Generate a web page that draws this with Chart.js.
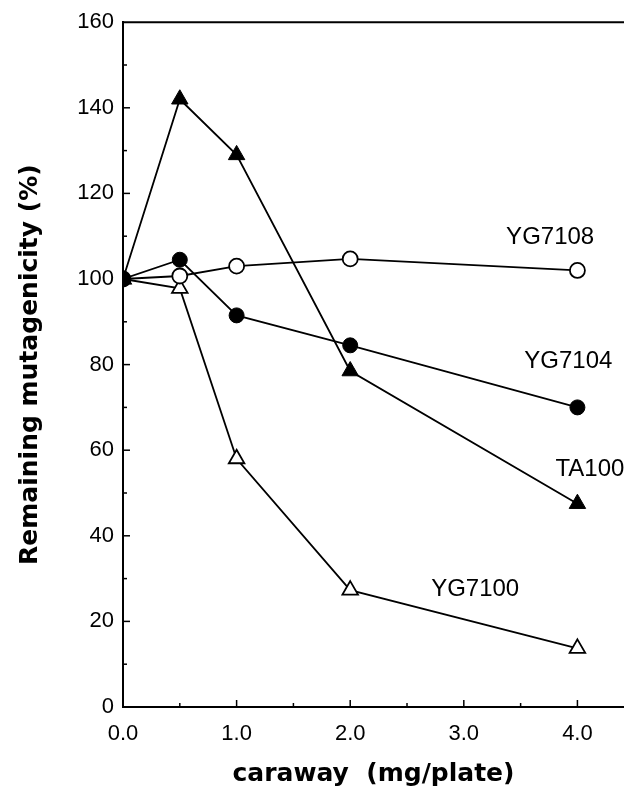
<!DOCTYPE html>
<html>
<head>
<meta charset="utf-8">
<script src="https://cdn.jsdelivr.net/npm/chart.js@4.4.1/dist/chart.umd.min.js"></script>
<style>
  html, body { margin: 0; padding: 0; background: #fff; }
  #contenedor { width: 624px; height: 787px; }
</style>
</head>
<body>
<div id="contenedor"><canvas id="grafico"></canvas></div>
<script>
// Dosis de alcaravea (mg/placa)
const dosis = [0, 0.5, 1, 2, 4];

// Mutagenicidad remanente (%) por cepa
const ta100 = [100, 142, 129, 78.5, 47.5];
const yg7104 = [100, 104.5, 91.5, 84.5, 70];
const yg7108 = [100, 100.7, 103, 104.7, 102];
const yg7100 = [100, 97.8, 58, 27.3, 13.7];

// Nombres de las cepas junto a las curvas
const nombres = ['TA100', 'YG7104', 'YG7108', 'YG7100'];

const fuente = "'Liberation Sans', Arial, sans-serif";
const fuenteTitulo = "'DejaVu Sans', sans-serif";

const puntos = serie => serie.map((v, i) => ({ x: dosis[i], y: v }));

// Posición de cada etiqueta (en unidades de los ejes)
const posEtiquetas = {
  TA100: [4.11, 55.5],
  YG7104: [3.92, 80.7],
  YG7108: [3.76, 109.8],
  YG7100: [3.10, 27.5]
};

// Marcas internas, borde superior y etiquetas de las series
const marcasPlugin = {
  id: 'marcas',
  afterDraw(chart) {
    const { ctx, chartArea: a, scales: { x, y } } = chart;
    ctx.save();
    ctx.strokeStyle = '#000';
    ctx.lineWidth = 2;
    ctx.beginPath();
    ctx.moveTo(a.left, a.top);
    ctx.lineTo(a.right, a.top);
    ctx.stroke();

    ctx.lineWidth = 1.5;
    x.ticks.forEach(t => {
      if (t.value <= 0 || t.value > 4) return;
      const px = x.getPixelForValue(t.value);
      const largo = Number.isInteger(t.value) ? 7 : 4;
      ctx.beginPath();
      ctx.moveTo(px, a.bottom);
      ctx.lineTo(px, a.bottom - largo);
      ctx.stroke();
    });
    y.ticks.forEach(t => {
      if (t.value <= 0 || t.value >= 160) return;
      const py = y.getPixelForValue(t.value);
      const largo = t.value % 20 === 0 ? 7 : 4;
      ctx.beginPath();
      ctx.moveTo(a.left, py);
      ctx.lineTo(a.left + largo, py);
      ctx.stroke();
    });

    ctx.fillStyle = '#000';
    ctx.font = '24px ' + fuente;
    ctx.textAlign = 'center';
    ctx.textBaseline = 'middle';
    nombres.forEach(n => {
      const [vx, vy] = posEtiquetas[n];
      ctx.fillText(n, x.getPixelForValue(vx), y.getPixelForValue(vy));
    });
    ctx.restore();
  }
};

const ctx = document.getElementById('grafico').getContext('2d');

const grafico = new Chart(ctx, {
  type: 'scatter',
  data: {
    datasets: [
      {
        label: 'TA100',
        data: puntos(ta100),
        showLine: true,
        borderColor: '#000',
        borderWidth: 1.8,
        pointStyle: 'triangle',
        pointRadius: 9.5,
        pointBackgroundColor: '#000',
        pointBorderColor: '#000',
        pointBorderWidth: 1
      },
      {
        label: 'YG7104',
        data: puntos(yg7104),
        showLine: true,
        borderColor: '#000',
        borderWidth: 1.8,
        pointStyle: 'circle',
        pointRadius: 7.5,
        pointBackgroundColor: '#000',
        pointBorderColor: '#000',
        pointBorderWidth: 1
      },
      {
        label: 'YG7108',
        data: puntos(yg7108),
        showLine: true,
        borderColor: '#000',
        borderWidth: 1.8,
        pointStyle: 'circle',
        pointRadius: 7.5,
        pointBackgroundColor: '#fff',
        pointBorderColor: '#000',
        pointBorderWidth: 1.8
      },
      {
        label: 'YG7100',
        data: puntos(yg7100),
        showLine: true,
        borderColor: '#000',
        borderWidth: 1.8,
        pointStyle: 'triangle',
        pointRadius: 9,
        pointBackgroundColor: '#fff',
        pointBorderColor: '#000',
        pointBorderWidth: 1.8
      }
    ]
  },
  options: {
    responsive: true,
    maintainAspectRatio: false,
    animation: false,
    layout: { autoPadding: false, padding: { top: 20, right: 0, left: 0, bottom: 0 } },
    plugins: {
      legend: { display: false },
      tooltip: { enabled: false }
    },
    scales: {
      x: {
        type: 'linear',
        min: 0,
        max: 4.41,
        afterFit: s => { s.height = 80; },
        grid: { display: false, drawTicks: false },
        border: { display: true, color: '#000', width: 2 },
        ticks: {
          stepSize: 0.5,
          includeBounds: false,
          autoSkip: false,
          maxRotation: 0,
          padding: 14,
          color: '#000',
          font: { family: fuente, size: 22 },
          callback: v => (Number.isInteger(v) ? v.toFixed(1) : '')
        },
        title: {
          display: true,
          text: 'caraway  (mg/plate)',
          color: '#000',
          font: { family: fuenteTitulo, size: 25, weight: 'bold', lineHeight: 1 },
          padding: 0
        }
      },
      y: {
        min: 0,
        max: 160,
        afterFit: s => { s.width = 123; },
        grid: { display: false, drawTicks: false },
        border: { display: true, color: '#000', width: 2 },
        ticks: {
          stepSize: 10,
          autoSkip: false,
          padding: 9,
          color: '#000',
          font: { family: fuente, size: 22 },
          callback: v => (v % 20 === 0 ? String(v) : '')
        },
        title: {
          display: true,
          text: 'Remaining mutagenicity (%)',
          color: '#000',
          font: { family: fuenteTitulo, size: 25, weight: 'bold', lineHeight: 1.2 },
          padding: { top: 15, bottom: 0 }
        }
      }
    }
  },
  plugins: [marcasPlugin]
});
</script>
</body>
</html>
